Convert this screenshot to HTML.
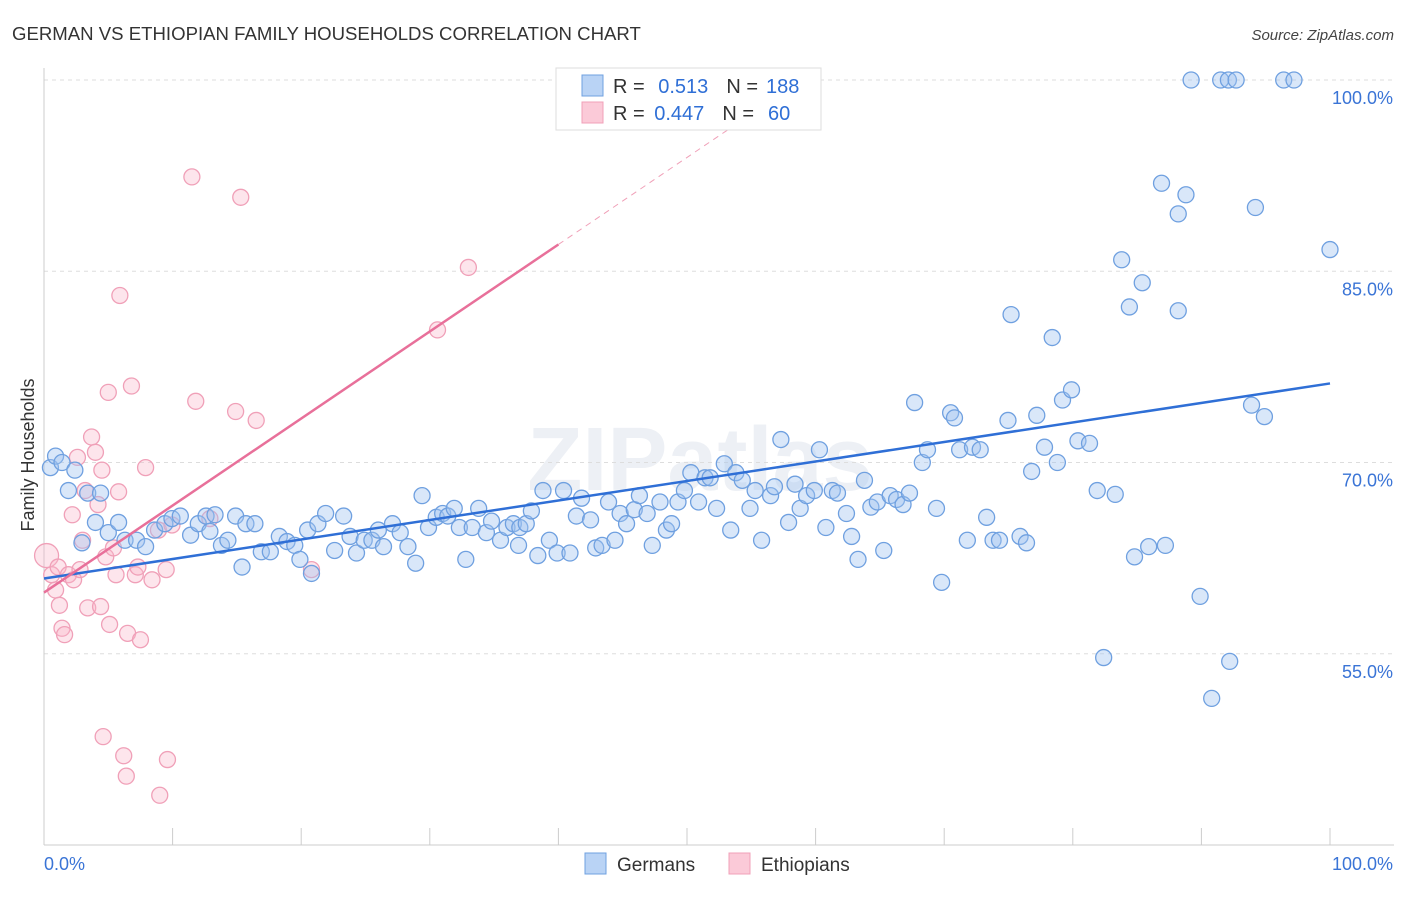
<!DOCTYPE html>
<html><head><meta charset="utf-8">
<style>
body{margin:0;background:#fff;font-family:"Liberation Sans",sans-serif;}
svg text{font-family:"Liberation Sans",sans-serif;}
</style></head>
<body>
<svg id="chart" width="1406" height="892" viewBox="0 0 1406 892" xmlns="http://www.w3.org/2000/svg">
<text x="12" y="40" font-size="18.6" fill="#333">GERMAN VS ETHIOPIAN FAMILY HOUSEHOLDS CORRELATION CHART</text>
<text x="1394" y="40" font-size="15" fill="#444" text-anchor="end" font-style="italic">Source: ZipAtlas.com</text>
<text x="700" y="490" font-size="90" fill="#edf0f5" text-anchor="middle" font-weight="bold">ZIPatlas</text>
<g id="grid"></g>
<g id="axes"></g>
<g id="marks"></g>
<text transform="translate(34,455) rotate(-90)" font-size="18" fill="#333" text-anchor="middle">Family Households</text>
<g>
<rect x="556" y="68" width="265" height="62" fill="#fff" stroke="#ddd"/>
<rect x="582" y="75" width="21" height="21" fill="#b9d3f5" stroke="#6fa0e0"/>
<rect x="582" y="102" width="21" height="21" fill="#fbcad8" stroke="#f0a0b8"/>
<text x="613" y="93" font-size="20" fill="#333">R = <tspan fill="#2f6fd6" dx="8">0.513</tspan><tspan dx="18" fill="#333">N =</tspan><tspan dx="8" fill="#2f6fd6">188</tspan></text>
<text x="613" y="120" font-size="20" fill="#333">R = <tspan fill="#2f6fd6" dx="4">0.447</tspan><tspan dx="18" fill="#333">N =</tspan><tspan dx="14" fill="#2f6fd6">60</tspan></text>
</g>
<g>
<rect x="585" y="853" width="21" height="21" fill="#b9d3f5" stroke="#6fa0e0"/>
<text x="617" y="871" font-size="19" fill="#333">Germans</text>
<rect x="729" y="853" width="21" height="21" fill="#fbcad8" stroke="#f0a0b8"/>
<text x="761" y="871" font-size="19" fill="#333">Ethiopians</text>
</g>
</svg>
<script>
const xTicks=[0,10,20,30,40,50,60,70,80,90,100];
const yTicks=[55,70,85,100];
const yTickLabels=["55.0%","70.0%","85.0%","100.0%"];
const germanX=[0.5,0.9,1.4,1.9,2.4,3.4,4.4,4.0,2.95,5.0,5.8,6.3,7.2,7.9,8.6,9.4,9.95,10.6,11.4,12.0,12.6,13.3,12.9,13.8,14.3,14.9,15.7,16.4,15.4,16.9,17.6,18.3,18.9,19.5,19.9,20.8,20.5,21.3,21.9,22.6,23.3,23.8,24.3,24.9,25.5,26.0,26.4,27.1,27.7,28.3,28.9,29.4,29.9,30.5,31.0,31.4,31.9,32.3,32.8,33.3,33.8,34.4,34.8,35.5,36.0,36.5,37.0,37.5,37.9,36.9,38.4,38.8,39.3,39.9,40.4,40.9,41.4,41.8,42.5,42.9,43.4,43.9,44.4,44.8,45.3,45.9,46.3,46.9,47.3,47.9,48.4,48.8,49.3,49.8,50.3,50.9,51.4,51.8,52.3,52.9,53.4,53.8,54.3,54.9,55.3,55.8,56.5,56.8,57.3,57.9,58.4,58.8,59.3,59.9,60.3,60.8,61.3,61.7,62.4,62.8,63.3,63.8,64.3,64.8,65.3,65.8,66.3,66.8,67.3,67.7,68.3,68.7,69.4,69.8,70.5,70.8,71.2,71.8,72.2,72.8,73.3,73.8,74.3,74.96,75.2,75.9,76.4,76.8,77.2,77.8,78.4,78.8,79.2,79.9,80.4,81.3,81.9,82.4,83.3,83.8,84.4,84.8,85.4,85.9,86.9,87.2,88.2,88.2,88.8,89.2,89.9,90.8,91.5,92.1,92.7,92.2,94.2,93.9,94.9,96.4,97.2,100];
const germanY=[69.6,70.5,70.0,67.8,69.4,67.6,67.6,65.3,63.7,64.5,65.3,63.9,63.9,63.4,64.7,65.2,65.6,65.8,64.3,65.2,65.8,65.9,64.6,63.5,63.9,65.8,65.2,65.2,61.8,63.0,63.0,64.2,63.8,63.5,62.4,61.3,64.7,65.2,66.0,63.1,65.8,64.2,62.9,63.9,63.9,64.7,63.4,65.2,64.5,63.4,62.1,67.4,64.9,65.7,66.0,65.8,66.4,64.9,62.4,64.9,66.4,64.5,65.4,63.9,64.9,65.2,64.9,65.2,66.2,63.5,62.7,67.8,63.9,62.9,67.8,62.9,65.8,67.2,65.5,63.3,63.5,66.9,63.9,66.0,65.2,66.3,67.4,66.0,63.5,66.9,64.7,65.2,66.9,67.8,69.2,66.9,68.8,68.8,66.4,69.9,64.7,69.2,68.6,66.4,67.8,63.9,67.4,68.1,71.8,65.3,68.3,66.4,67.4,67.8,71.0,64.9,67.8,67.6,66.0,64.2,62.4,68.6,66.5,66.9,63.1,67.4,67.1,66.7,67.6,74.7,70.0,71.0,66.4,60.6,73.9,73.5,71.0,63.9,71.2,71.0,65.7,63.9,63.9,73.3,81.6,64.2,63.7,69.3,73.7,71.2,79.8,70.0,74.9,75.7,71.7,71.5,67.8,54.7,67.5,85.9,82.2,62.6,84.1,63.4,91.9,63.5,89.5,81.9,91.0,100,59.5,51.5,100,100,100,54.4,90.0,74.5,73.6,100,100,86.7];
const ethX=[0.2,0.6,0.9,1.1,1.2,1.4,1.6,1.9,2.2,2.3,2.6,2.8,3.0,3.2,3.4,3.7,4.0,4.2,4.4,4.5,4.6,4.8,5.0,5.1,5.4,5.6,5.8,5.9,6.2,6.4,6.5,6.8,7.1,7.3,7.5,7.9,8.4,8.9,9.0,9.5,9.6,9.95,11.5,11.8,12.9,14.9,15.3,16.5,20.8,30.6,33.0];
const ethY=[62.7,61.2,60.0,61.8,58.8,57.0,56.5,61.2,65.9,60.8,70.4,61.6,63.9,67.8,58.6,72.0,70.8,66.7,58.7,69.4,48.5,62.6,75.5,57.3,63.3,61.2,67.7,83.1,47.0,45.4,56.6,76.0,61.2,61.8,56.1,69.6,60.8,64.7,43.9,61.6,46.7,65.1,92.4,74.8,65.6,74.0,90.8,73.3,61.6,80.4,85.3];
const germanTrend=[60.9,76.2];
const ethTrend=[59.8,87.1];

const NS="http://www.w3.org/2000/svg";
const X=v=>44+v*12.86;
const Y=v=>80+(100-v)*12.75;
function mk(tag,attrs,parent){const e=document.createElementNS(NS,tag);for(const k in attrs)e.setAttribute(k,attrs[k]);parent.appendChild(e);return e;}
const grid=document.getElementById('grid'),axes=document.getElementById('axes'),marks=document.getElementById('marks');
yTicks.forEach((t,i)=>{
  const l=mk('line',{x1:44,x2:1394,y1:Y(t),y2:Y(t),stroke:'#ddd','stroke-dasharray':'4,4'},grid);
  
  
  const tx=mk('text',{x:1393,y:Y(t)+24,'font-size':18,fill:'#3a74d6','text-anchor':'end'},axes);
  tx.textContent=yTickLabels[i];
  
  
});
const ax=mk('line',{x1:44,x2:1394,y1:845,y2:845,stroke:'#ccc'},axes);


const ay=mk('line',{x1:44,x2:44,y1:68,y2:845,stroke:'#ccc'},axes);


xTicks.forEach(t=>{
  const l=mk('line',{x1:X(t),x2:X(t),y1:828,y2:845,stroke:'#ccc'},axes);
  
  
});
const xl0=mk('text',{x:44,y:870,'font-size':18,fill:'#3a74d6'},axes);xl0.textContent='0.0%';


const xl1=mk('text',{x:1393,y:870,'font-size':18,fill:'#3a74d6','text-anchor':'end'},axes);xl1.textContent='100.0%';



ethX.forEach((x,i)=>{
  const c=mk('circle',{cx:X(x),cy:Y(ethY[i]),r:i===0?12:8,fill:'rgba(248,180,200,0.35)',stroke:'#f0a0b8','stroke-width':1.3},marks);
  
  
});
germanX.forEach((x,i)=>{
  const c=mk('circle',{cx:X(x),cy:Y(germanY[i]),r:8,fill:'rgba(160,196,240,0.4)',stroke:'#6fa0e0','stroke-width':1.3},marks);
  
  
});
const bl=mk('line',{x1:X(0),y1:Y(germanTrend[0]),x2:X(100),y2:Y(germanTrend[1]),stroke:'#2f6fd6','stroke-width':2.5},marks);


const slope=(ethTrend[1]-ethTrend[0])/40;
const pl=mk('line',{x1:X(0),y1:Y(ethTrend[0]),x2:X(40),y2:Y(ethTrend[1]),stroke:'#e8709a','stroke-width':2.5},marks);


const pd=mk('line',{x1:X(40),y1:Y(ethTrend[1]),x2:X(54),y2:Y(ethTrend[0]+slope*54),stroke:'#f0a0b8','stroke-width':1,'stroke-dasharray':'6,5'},marks);


</script>
</body></html>
